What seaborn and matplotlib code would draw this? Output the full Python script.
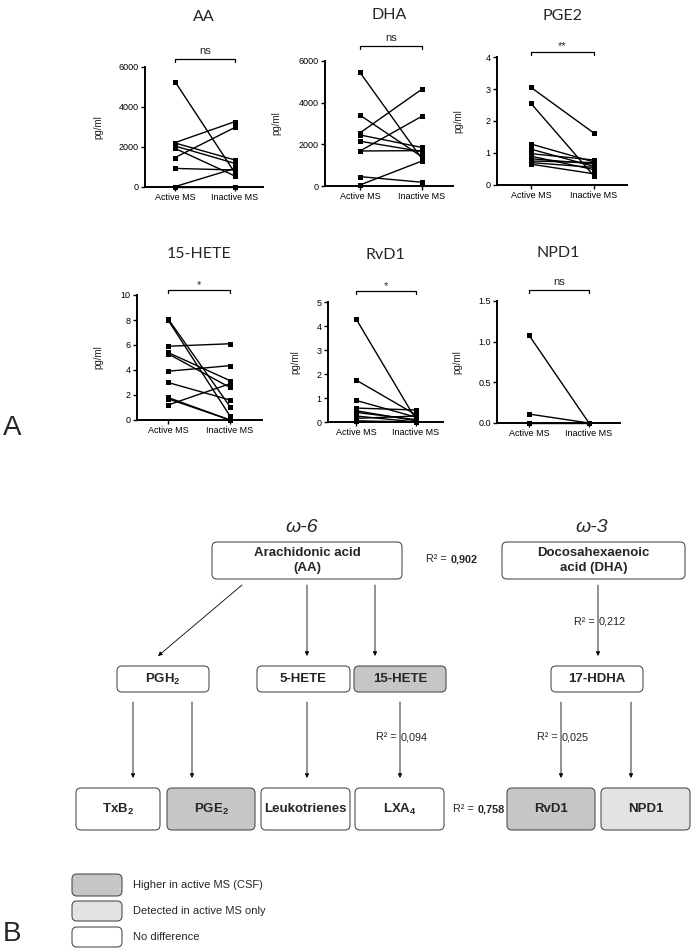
import numpy as np
import pandas as pd
import matplotlib
matplotlib.use("Agg")
import matplotlib.pyplot as plt
from matplotlib.patches import FancyBboxPatch
import seaborn as sns

# ---------------- data ----------------
conditions = ["Active MS", "Inactive MS"]

aa_active = [5270, 2220, 2200, 2050, 1930, 1470, 930, 20, 0]
aa_inactive = [700, 3270, 1350, 1180, 550, 2980, 850, 930, 0]

dha_active = [5450, 3400, 2550, 2450, 2150, 1680, 1680, 450, 50]
dha_inactive = [1300, 1400, 4650, 1850, 1650, 3350, 1700, 180, 1200]

pge2_active = [3.05, 2.55, 1.28, 1.12, 0.98, 0.90, 0.82, 0.75, 0.70, 0.65]
pge2_inactive = [1.62, 0.28, 0.72, 0.58, 0.78, 0.48, 0.66, 0.70, 0.55, 0.35]

hete15_active = [8.1, 8.0, 5.9, 5.4, 5.3, 3.9, 3.0, 1.8, 1.7, 1.2]
hete15_inactive = [1.07, 0.32, 6.1, 3.15, 2.6, 4.35, 1.6, 0.0, 0.0, 2.9]

rvd1_active = [4.3, 1.75, 0.9, 0.58, 0.47, 0.40, 0.25, 0.15, 0.05]
rvd1_inactive = [0.1, 0.3, 0.2, 0.5, 0.05, 0.1, 0.0, 0.25, 0.0]

npd1_active = [1.08, 0.11, 0.0]
npd1_inactive = [0.0, 0.0, 0.0]

titles = ["AA", "DHA", "PGE2", "15-HETE", "RvD1", "NPD1"]
significance = ["ns", "ns", "**", "*", "*", "ns"]
yticks_list = [[0, 2000, 4000, 6000], [0, 2000, 4000, 6000], [0, 1, 2, 3, 4],
               [0, 2, 4, 6, 8, 10], [0, 1, 2, 3, 4, 5], [0.0, 0.5, 1.0, 1.5]]
ytick_labels = [["0", "2000", "4000", "6000"], ["0", "2000", "4000", "6000"],
                ["0", "1", "2", "3", "4"], ["0", "2", "4", "6", "8", "10"],
                ["0", "1", "2", "3", "4", "5"], ["0.0", "0.5", "1.0", "1.5"]]
series = [(aa_active, aa_inactive), (dha_active, dha_inactive),
          (pge2_active, pge2_inactive), (hete15_active, hete15_inactive),
          (rvd1_active, rvd1_inactive), (npd1_active, npd1_inactive)]

# ---------------- figure ----------------
sns.set_style("ticks")
plt.rcParams["font.family"] = ["Liberation Sans", "DejaVu Sans"]
plt.rcParams["mathtext.fontset"] = "custom"
plt.rcParams["mathtext.rm"] = "Liberation Sans"
plt.rcParams["mathtext.bf"] = "Liberation Sans:bold"
plt.rcParams["mathtext.it"] = "Liberation Sans:italic"

W, H = 695, 951
fig = plt.figure(figsize=(W / 100, H / 100), dpi=100)
fig.patch.set_facecolor("white")

# pixel layout: (x_left, y_top, x_right, y_bottom, x_active, x_inactive, bracket_y, sig_y, ylabel_x, title_y)
layout = [
    (145, 67, 263, 187, 175, 235, 59, 51, 103, 17),
    (325, 61, 453, 186, 360, 422, 46, 38, 281, 15),
    (497, 57, 627, 185, 531, 594, 52, 46, 463, 16),
    (137, 295, 262, 420, 168, 230, 290, 285, 103, 254),
    (328, 302, 443, 422, 356, 416, 291, 286, 300, 255),
    (497, 301, 620, 423, 529, 589, 290, 282, 462, 253),
]


def px_axes(x0, y0, x1, y1):
    return fig.add_axes([x0 / W, 1 - y1 / H, (x1 - x0) / W, (y1 - y0) / H])


for i, (title, (act, ina)) in enumerate(zip(titles, series)):
    x0, y0, x1, y1, xa, xi, by, sy, ylx, ty = layout[i]
    ax = px_axes(x0, y0, x1, y1)
    n = len(act)
    df = pd.DataFrame({
        "subject": list(range(n)) * 2,
        "x": [0] * n + [1] * n,
        "val": list(act) + list(ina),
    })
    sns.lineplot(data=df, x="x", y="val", units="subject", estimator=None,
                 color="black", marker="s", markersize=3.6, markeredgewidth=0,
                 linewidth=1.0, ax=ax, legend=False)
    for ln in ax.lines:
        ln.set_clip_on(False)
    span = xi - xa
    ax.set_xlim((x0 - xa) / span, (x1 - xa) / span)
    yt = yticks_list[i]
    ax.set_ylim(0, yt[-1])
    ax.set_yticks(yt)
    ax.set_yticklabels(ytick_labels[i])
    ax.set_xticks([0, 1])
    ax.set_xticklabels(conditions)
    ax.set_xlabel("")
    ax.set_ylabel("pg/ml", fontsize=7)
    ax.yaxis.set_label_coords((ylx - x0) / (x1 - x0), 0.5)
    for s in ["top", "right"]:
        ax.spines[s].set_visible(False)
    for s in ["left", "bottom"]:
        ax.spines[s].set_linewidth(1.4)
        ax.spines[s].set_color("black")
    ax.tick_params(axis="both", direction="out", length=3, width=1.0,
                   labelsize=6.5, pad=1.5, colors="black")
    ax.set_facecolor("none")
    # significance bracket
    hpx = y1 - y0
    yf = 1 + (y0 - by) / hpx
    d = 3 / hpx
    ax.plot([0, 0, 1, 1], [yf - d, yf, yf, yf - d], color="black", lw=0.9,
            transform=ax.get_xaxis_transform(), clip_on=False)
    ax.text(0.5, 1 + (y0 - sy) / hpx, significance[i], ha="center", va="center",
            fontsize=8, transform=ax.get_xaxis_transform())
    fig.text(((x0 + x1) / 2) / W, 1 - ty / H, title, ha="center", va="center",
             fontsize=11.5, family=["Lato", "DejaVu Sans"])

# ---------------- pathway diagram (panel B) ----------------
dax = fig.add_axes([0, 0, 1, 1])
dax.set_xlim(0, W)
dax.set_ylim(H, 0)
dax.axis("off")
dax.patch.set_alpha(0)

DARK = "#c6c6c6"
LIGHT = "#e3e3e3"


def box(x0, y0, x1, y1, fc, label, fs=9.5, bold=True):
    p = FancyBboxPatch((x0, y0), x1 - x0, y1 - y0,
                       boxstyle="round,pad=0,rounding_size=5",
                       fc=fc, ec="#505050", lw=0.8)
    dax.add_patch(p)
    if label:
        dax.text((x0 + x1) / 2, (y0 + y1) / 2, label, ha="center", va="center",
                 fontsize=fs, fontweight="bold" if bold else "normal",
                 linespacing=1.25)


def arrow(xs, ys, xe, ye):
    dax.annotate("", xy=(xe, ye), xytext=(xs, ys),
                 arrowprops=dict(arrowstyle="-|>", color="black", lw=0.6,
                                 mutation_scale=6, shrinkA=0, shrinkB=0))


def r2(x, y, value, bold=False):
    dax.text(x, y, "R² = ", ha="right", va="center", fontsize=7.8)
    dax.text(x + 1, y, value, ha="left", va="center", fontsize=7.8,
             fontweight="bold" if bold else "normal")


dax.text(302, 528, "ω-6", ha="center", va="center", fontsize=14, style="italic")
dax.text(592, 528, "ω-3", ha="center", va="center", fontsize=14, style="italic")

box(212, 542, 402, 579, "white", "Arachidonic acid\n(AA)")
box(502, 542, 685, 579, "white", "Docosahexaenoic\nacid (DHA)")
r2(450, 559, "0,902", bold=True)

arrow(242, 585, 158, 656)
arrow(307, 585, 307, 656)
arrow(375, 585, 375, 656)
arrow(598, 585, 598, 656)
r2(598, 622, "0,212")

box(117, 666, 209, 692, "white", r"$\mathbf{PGH_2}$")
box(257, 666, 350, 692, "white", "5-HETE")
box(354, 666, 446, 692, DARK, "15-HETE")
box(551, 666, 643, 692, "white", "17-HDHA")

for xx in [133, 192, 307, 400, 561, 631]:
    arrow(xx, 702, xx, 778)
r2(400, 737, "0,094")
r2(561, 737, "0,025")

box(76, 788, 160, 830, "white", r"$\mathbf{TxB_2}$")
box(167, 788, 255, 830, DARK, r"$\mathbf{PGE_2}$")
box(261, 788, 350, 830, "white", "Leukotrienes")
box(355, 788, 444, 830, "white", r"$\mathbf{LXA_4}$")
r2(477, 809, "0,758", bold=True)
box(507, 788, 595, 830, DARK, "RvD1")
box(601, 788, 690, 830, LIGHT, "NPD1")

# legend
legend_fills = [DARK, LIGHT, "white"]
legend_labels = ["Higher in active MS (CSF)", "Detected in active MS only", "No difference"]
legend_rows = [(874, 896), (901, 921), (927, 947)]
for fc, lab, (ya, yb) in zip(legend_fills, legend_labels, legend_rows):
    box(72, ya, 122, yb, fc, None)
    dax.text(133, (ya + yb) / 2, lab, ha="left", va="center", fontsize=8)

dax.text(3, 428, "A", ha="left", va="center", fontsize=20)
dax.text(3, 934, "B", ha="left", va="center", fontsize=20)

fig.savefig("out.png", dpi=100, facecolor="white")
